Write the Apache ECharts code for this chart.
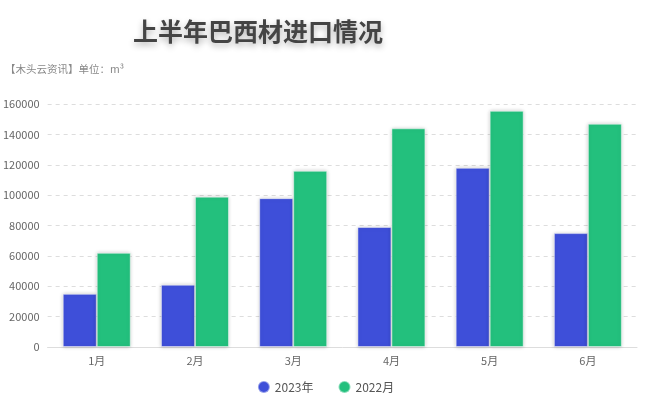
<!DOCTYPE html>
<html><head><meta charset="utf-8">
<script src="https://cdn.jsdelivr.net/npm/echarts@6/dist/echarts.min.js"></script>
<style>html,body{margin:0;padding:0;background:#fff}#c{width:651px;height:404px}</style>
</head><body><div id="c"></div>
<script>
var categories = ['1月','2月','3月','4月','5月','6月'];
var seriesNames = ['2023年','2022月'];
var values2023 = [35000, 41000, 98000, 79000, 118000, 75000];
var values2022 = [62000, 99000, 116000, 144000, 155500, 147000];
var titleText = '上半年巴西材进口情况';
var subText = '【木头云资讯】单位：m³';
var FONT = '"Noto Sans CJK SC", "Noto Sans", sans-serif';
var chart = echarts.init(document.getElementById('c'));
function barStyle(c){
  return {color:c, borderColor:'rgba(255,255,255,0.45)', borderWidth:1,
    shadowColor:'rgba(0,0,0,0.22)', shadowBlur:4};
}
chart.setOption({
  animation:false,
  textStyle:{fontFamily:FONT},
  title:[
    {text:titleText, left:128, top:14,
     textStyle:{fontSize:25, fontWeight:'bold', color:'#444', fontFamily:FONT,
       textShadowColor:'rgba(0,0,0,0.3)', textShadowBlur:6, textShadowOffsetY:3}},
    {text:subText, left:0, top:59,
     textStyle:{fontSize:10.5, fontWeight:'normal', color:'#888', fontFamily:FONT}}
  ],
  legend:{data:seriesNames, bottom:5, left:'center', icon:'circle', itemWidth:12, itemHeight:12, itemGap:24,
    textStyle:{fontSize:12, color:'#555', fontFamily:FONT}},
  grid:{left:47, right:14, top:104, bottom:57},
  xAxis:{type:'category', data:categories,
    axisLine:{lineStyle:{color:'#ddd'}},
    axisTick:{alignWithLabel:true, lineStyle:{color:'#ccc'}},
    axisLabel:{color:'#666', fontSize:11, margin:8}},
  yAxis:{type:'value', min:0, max:160000, interval:20000,
    axisLine:{show:false}, axisTick:{show:false},
    axisLabel:{color:'#666', fontSize:11, margin:8, formatter:function(v){return String(v);}},
    splitLine:{lineStyle:{color:'#ddd', type:[4,4]}}},
  series:[
    {name:seriesNames[0], type:'bar', data:values2023, barWidth:34, barGap:'0%', itemStyle:barStyle('#3e4fd9')},
    {name:seriesNames[1], type:'bar', data:values2022, barWidth:34, barGap:'0%', itemStyle:barStyle('#23c07d')}
  ]
});
</script></body></html>
